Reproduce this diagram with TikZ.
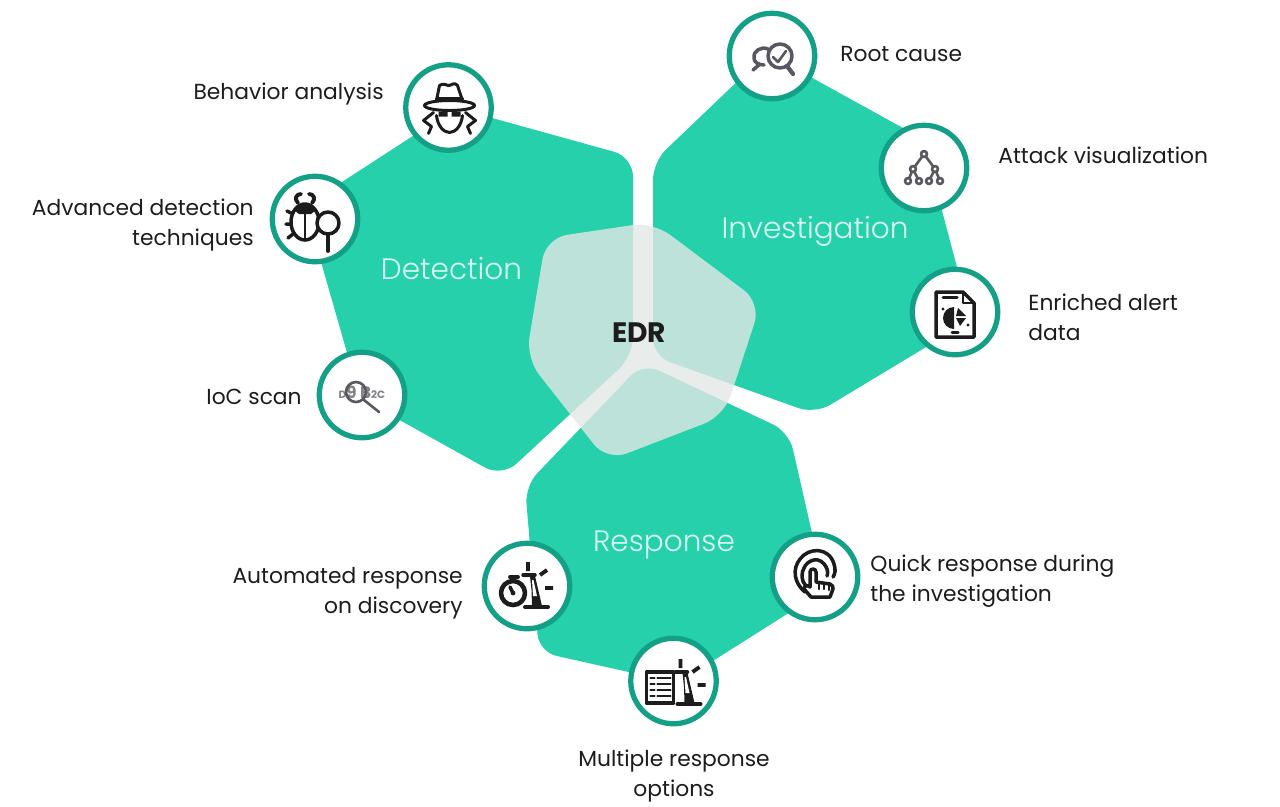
\documentclass[tikz,border=0pt]{standalone}
\usepackage{fontspec}
\setmainfont{Poppins}
\newfontfamily\titlefont{Poppins Light}
\usetikzlibrary{shapes.geometric}
\definecolor{edrgreen}{RGB}{38,208,170}
\definecolor{edrring}{RGB}{20,160,135}
\definecolor{edrcore}{RGB}{226,231,230}
\definecolor{edrmint}{RGB}{218,250,242}
\definecolor{edrink}{RGB}{28,28,28}
\definecolor{edrgrey}{RGB}{88,88,96}
\tikzset{
	hexzone/.style={fill=edrgreen, draw=none},
	iconring/.style={draw=edrring, fill=white, circle, line width=3pt, minimum size=1.71cm, inner sep=0},
	zonetitle/.style={text=edrmint, font=\titlefont\fontsize{16.8}{20}\selectfont, inner sep=0},
	itemtext/.style={text=edrink, font=\fontsize{12.4}{17}\selectfont, inner sep=0},
	glyph/.style={draw=edrink, line width=1.7pt, line cap=round, line join=round},
	glyphgrey/.style={draw=edrgrey, line width=1.5pt, line cap=round, line join=round},
	iconhat/.pic={
		\draw[glyph, fill=white] (-12,-7) -- (-9,-22) .. controls (-5,-25) and (-2,-22) .. (0,-22) .. controls (3,-22) and (6,-26) .. (9,-22) -- (14,-7);
		\draw[glyph] (-12,-9) -- (14,-9);
		\draw[glyph, fill=white] (1,-2) ellipse (25 and 5);
		\fill[edrink] (-10,4) rectangle (-1,9) (3,4) rectangle (12,9);
		\draw[glyph] (-12,8) .. controls (-11,18) and (-5,25) .. (1,25) .. controls (7,25) and (13,18) .. (14,8);
		\draw[glyph] (-15,5) -- (-25,13) -- (-17,19) -- (-20,26);
		\draw[glyph] (17,5) -- (27,13) -- (19,19) -- (22,26);
	},
	iconbug/.pic={
		\draw[glyph, line width=2pt] (-10,3) ellipse (14 and 18);
		\draw[glyph] (-10,-10) -- (-10,21);
		\fill[edrink] (-21,-9) .. controls (-14,-15) and (-6,-15) .. (1,-9) -- (-4,-5) -- (-16,-5) -- cycle;
		\draw[glyph, line width=2.2pt] (-17,-16) .. controls (-21,-20) and (-19,-25) .. (-14,-25);
		\draw[glyph, line width=2.2pt] (-3,-16) .. controls (1,-20) and (-1,-25) .. (-6,-25);
		\draw[glyph, line width=2pt] (-24,-6) -- (-28,-8) (-25,5) -- (-29,5) (-22,15) -- (-27,19);
		\draw[glyph, fill=white, line width=2pt] (13,4) circle [radius=11];
		\draw[glyph, line width=2.2pt] (13,15) -- (13,32);
	},
	iconioc/.pic={
		\node[text=edrgrey!75, font=\bfseries\fontsize{6}{6}\selectfont, inner sep=0] (ioccode) at (0,-3) {D{\fontsize{9.5}{9}\selectfont 9 B}2C};
		\draw[glyphgrey] (-6,-3) circle [radius=10];
		\draw[glyphgrey] (2,5) -- (17,17);
	},
	iconroot/.pic={
		\draw[glyphgrey, line width=2pt] (8,0) circle [radius=12];
		\draw[glyphgrey, line width=2pt] (-4,-7) .. controls (-11,-10) and (-19,-5) .. (-18,2) .. controls (-18,6) and (-14,9) .. (-8,9);
		\draw[glyphgrey, line width=2pt] (-12,8) -- (-19,14);
		\draw[glyphgrey, line width=2.4pt] (15,10) -- (21,18);
		\draw[glyphgrey] (1,1) -- (6,6) -- (14,-5);
	},
	icontree/.pic={
		\draw[glyphgrey] (0,-14) -- (-11,1) -- (-16,13) (-11,1) -- (-5,13) (0,-14) -- (11,1) -- (5,13) (11,1) -- (16,13);
		\foreach \px/\py in {0/-14, -11/1, 11/1, -16/13, -5/13, 5/13, 16/13}
			\draw[glyphgrey, fill=white] (\px,\py) circle [radius=3];
	},
	icondoc/.pic={
		\draw[glyph, line width=2pt] (8,-20) -- (-19,-20) -- (-19,25) -- (19,25) -- (19,-9) -- cycle;
		\draw[glyph, line width=1.2pt] (8,-20) -- (8,-9) -- (19,-9);
		\draw[glyph] (-12,-15) -- (2,-15) (-3,20) -- (3,20);
		\fill[edrink] (-1,6) -- (-1,-5) arc[start angle=-90, end angle=-270, radius=11] -- cycle;
		\fill[edrink] (1,4) -- (3,-4) -- (11,4) -- cycle (1,6) -- (11,6) -- (5,14) -- cycle;
		\fill[edrink] (-12,-3) circle [radius=1.6] (13,13) circle [radius=1.6];
	},
	iconbeacon/.pic={
		\fill[edrink] (3,-10) -- (8,-10) -- (15,20) -- (5,20) -- (4.5,4) -- cycle;
		\fill[white] (5,-6) -- (6.5,-6) -- (10,10) -- (6,10) -- cycle;
		\draw[glyph, line width=2pt] (-4,-11) -- (8,-11);
		\draw[glyph, line width=2.3pt] (-2,21) -- (21,21);
		\draw[glyph, line width=2.2pt, line cap=butt] (1,-24) -- (1,-15) (13,-11) -- (20,-16) (18,2) -- (26,2);
	},
	iconwatch/.pic={
		\pic at (0,0) {iconbeacon};
		\draw[glyph, fill=white, line width=2.6pt] (-14,7) circle [radius=12];
		\fill[edrink] (-14,7) circle [radius=2.4];
		\draw[glyph, line width=2pt] (-14,7) -- (-17,1);
		\draw[glyph, line width=2.2pt] (-17,-9) -- (-9,-9);
	},
	iconlist/.pic={
		\draw[glyph, line width=2.2pt] (-27,-9) rectangle (0,22);
		\foreach \ly in {-3,3,9,15}
			\draw[glyph, line width=1.3pt] (-23,\ly) -- (-19,\ly) (-16,\ly) -- (-3,\ly);
		\pic at (6,2) {iconbeacon};
	},
	icontouch/.pic={
		\draw[glyph, line width=2pt] (-9,9) .. controls (-14,4) and (-14,-4) .. (-11,-9) .. controls (-8,-17) and (6,-23) .. (12,-8) .. controls (13,-5) and (13,-3) .. (12,-1);
		\draw[glyph, line width=2pt] (-10,15) .. controls (-21,6) and (-23,-8) .. (-15,-18) .. controls (-6,-30) and (14,-30) .. (19,-13) .. controls (21,-7) and (20,-3) .. (18,0);
		\draw[glyph, fill=white, line width=2pt] (-5,10) -- (-5,-5) .. controls (-5,-9) and (1,-9) .. (1,-5) -- (1,5) -- (15,7) .. controls (18,8) and (18,10) .. (18,12) -- (15,20) -- (-4,20) -- (-11,12) .. controls (-11,8) and (-7,8) .. (-5,10);
		\draw[glyph, line width=1.5pt] (4,7) -- (4,12) (9,7) -- (9,12) (14,8) -- (14,13);
	},
}
\begin{document}
\begin{tikzpicture}[x=0.02cm, y=-0.02cm]
	\useasboundingbox (0,0) rectangle (1280,806);

	% the three zones
	\path[hexzone, rounded corners=11pt] (456,108) -- (633,157) -- (633,356) -- (502,477) -- (360,398) -- (305,206) -- cycle;
	\path[hexzone, rounded corners=10pt] (767,53) -- (923,139) -- (971,320) -- (815,414) -- (653,356) -- (653,162) -- cycle;
	\path[hexzone, rounded corners=10pt] (643,363) -- (789,432) -- (825,590) -- (678,683) -- (539,652) -- (525,486) -- cycle;

	\path[fill=edrcore, fill opacity=0.8, rounded corners=12pt] (546,238) -- (653,222) -- (761,303) -- (724,416) -- (607,461) -- (526,358) -- cycle;

	\node[font=\bfseries\fontsize{16}{18}\selectfont, text=edrink, inner sep=0] (edr) at (639,333) {EDR};
	\node[zonetitle] (detection) at (451.5,269) {Detection};
	\node[zonetitle] (investigation) at (815,231) {Investigation};
	\node[zonetitle] (response) at (664,545) {Response};

	% icon rings
	\node[iconring] (hat) at (448.5,107.5) {};
	\node[iconring] (bug) at (315,219) {};
	\node[iconring] (ioc) at (362,395) {};
	\node[iconring] (root) at (772,56) {};
	\node[iconring] (tree) at (924,168) {};
	\node[iconring] (doc) at (955,312) {};
	\node[iconring] (watch) at (527,586) {};
	\node[iconring] (list) at (673.5,681) {};
	\node[iconring] (touch) at (815,577) {};

	\pic at (hat) {iconhat};
	\pic at (bug) {iconbug};
	\pic at (ioc) {iconioc};
	\pic at (root) {iconroot};
	\pic at (tree) {icontree};
	\pic at (doc) {icondoc};
	\pic at (watch) {iconwatch};
	\pic at (list) {iconlist};
	\pic at (touch) {icontouch};

	% item labels
	\node[itemtext, anchor=east] (hattext) at (384,94) {Behavior analysis};
	\node[itemtext, anchor=east, align=right] (bugtext) at (254,225) {Advanced detection\\techniques};
	\node[itemtext, anchor=east] (ioctext) at (302,397) {IoC scan};
	\node[itemtext, anchor=west] (roottext) at (840,54) {Root cause};
	\node[itemtext, anchor=west] (treetext) at (998,155) {Attack visualization};
	\node[itemtext, anchor=west, align=left] (doctext) at (1028,317.5) {Enriched alert\\data};
	\node[itemtext, anchor=east, align=right] (watchtext) at (463,593) {Automated response\\on discovery};
	\node[itemtext, align=center] (listtext) at (674,776) {Multiple response\\options};
	\node[itemtext, anchor=west, align=left] (touchtext) at (870,581) {Quick response during\\the investigation};
\end{tikzpicture}
\end{document}
